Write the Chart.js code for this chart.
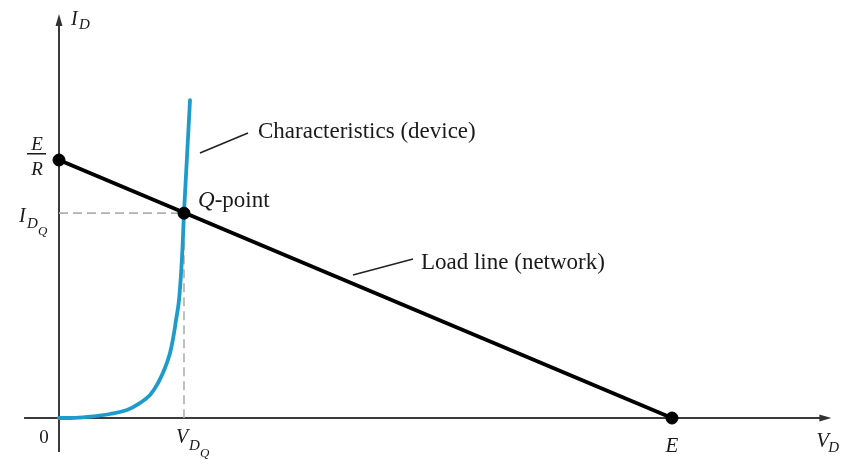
<!DOCTYPE html>
<html>
<head>
<meta charset="utf-8">
<script src="https://cdn.jsdelivr.net/npm/chart.js@4.4.1/dist/chart.umd.min.js"></script>
<style>
  html, body { margin: 0; padding: 0; background: #fff; }
  #wrap { width: 847px; height: 464px; position: relative; }
</style>
</head>
<body>
<div id="wrap"><canvas id="c"></canvas></div>
<script>
// ---- data (V in units of E/10, I in units of (E/R)/5) ----
const diodeV = [0, 0.261, 0.506, 0.832, 1.109, 1.321, 1.485, 1.615, 1.729, 1.811, 1.865, 1.909, 1.958, 2.007, 2.039, 2.088, 2.137];
const diodeI = [0, 0.004, 0.025, 0.078, 0.155, 0.291, 0.446, 0.678, 0.969, 1.260, 1.570, 1.899, 2.287, 3.120, 3.97, 5.06, 6.16];
const loadV = [0, 10];
const loadI = [5, 0];
const qV = 2.039;
const qI = 3.97;
const pointV = [0, qV, 10];
const pointI = [5, qI, 0];
const xAxisRange = [-0.57, 12.6];
const yAxisRange = [-0.66, 7.83];
const xView = [-0.9625, 12.855];
const yView = [-0.891, 8.101];

const toXY = (xs, ys) => xs.map((x, i) => ({ x, y: ys[i] }));

const SERIF = '"Liberation Serif", "DejaVu Serif", serif';

const drawPlugin = {
  id: 'decor',
  afterDatasetsDraw(chart) {
    const ctx = chart.ctx;
    const xs = chart.scales.x, ys = chart.scales.y;
    const px = v => xs.getPixelForValue(v);
    const py = v => ys.getPixelForValue(v);
    ctx.save();
    // arrowheads
    ctx.fillStyle = '#333';
    const xt = px(xAxisRange[1]), y0 = py(0);
    ctx.beginPath();
    ctx.moveTo(xt, y0); ctx.lineTo(xt - 12, y0 - 3.5); ctx.lineTo(xt - 12, y0 + 3.5); ctx.closePath(); ctx.fill();
    const yt = py(yAxisRange[1]), x0 = px(0);
    ctx.beginPath();
    ctx.moveTo(x0, yt); ctx.lineTo(x0 - 3.5, yt + 12); ctx.lineTo(x0 + 3.5, yt + 12); ctx.closePath(); ctx.fill();

    // leader lines
    ctx.strokeStyle = '#222';
    ctx.lineWidth = 1.6;
    ctx.beginPath();
    ctx.moveTo(px(2.30), py(5.136));
    ctx.lineTo(px(3.083), py(5.523));
    ctx.stroke();
    ctx.beginPath();
    ctx.moveTo(px(4.796), py(2.771));
    ctx.lineTo(px(5.775), py(3.081));
    ctx.stroke();

    ctx.fillStyle = '#1a1a1a';
    ctx.textBaseline = 'alphabetic';
    // annotation texts
    ctx.font = `23px ${SERIF}`;
    ctx.textAlign = 'left';
    ctx.fillText('Characteristics (device)', px(3.246), py(5.426));
    ctx.fillText('Load line (network)', px(5.905), py(2.888));
    // Q-point
    ctx.font = `italic 23px ${SERIF}`;
    ctx.fillText('Q', px(2.268), py(4.089));
    const qw = ctx.measureText('Q').width;
    ctx.font = `23px ${SERIF}`;
    ctx.fillText('-point', px(2.268) + qw, py(4.089));

    // I_D axis label
    ctx.font = `italic 20px ${SERIF}`;
    ctx.fillText('I', x0 + 12, yt + 11);
    ctx.font = `italic 15px ${SERIF}`;
    ctx.fillText('D', x0 + 20, yt + 15);

    // V_D axis label
    ctx.font = `italic 21px ${SERIF}`;
    ctx.fillText('V', xt - 15, y0 + 29);
    ctx.font = `italic 15px ${SERIF}`;
    ctx.fillText('D', xt - 3, y0 + 34);

    // E label
    ctx.font = `italic 21px ${SERIF}`;
    ctx.textAlign = 'center';
    ctx.fillText('E', px(10), y0 + 34);
    // 0 label
    ctx.font = `19px ${SERIF}`;
    ctx.fillText('0', x0 - 15, y0 + 25);

    // E/R fraction
    const fy = py(5);
    ctx.font = `italic 19px ${SERIF}`;
    ctx.fillText('E', x0 - 22, fy - 10);
    ctx.fillText('R', x0 - 22, fy + 15);
    ctx.fillRect(x0 - 32, fy - 7, 19, 1.5);

    // I_DQ label
    ctx.textAlign = 'left';
    const iy = py(qI);
    ctx.font = `italic 20px ${SERIF}`;
    ctx.fillText('I', x0 - 40, iy + 9);
    ctx.font = `italic 15px ${SERIF}`;
    ctx.fillText('D', x0 - 32, iy + 15);
    ctx.font = `italic 13px ${SERIF}`;
    ctx.fillText('Q', x0 - 21, iy + 22);

    // V_DQ label
    const vx = px(qV);
    ctx.font = `italic 20px ${SERIF}`;
    ctx.fillText('V', vx - 8, y0 + 25);
    ctx.font = `italic 15px ${SERIF}`;
    ctx.fillText('D', vx + 5, y0 + 32);
    ctx.font = `italic 13px ${SERIF}`;
    ctx.fillText('Q', vx + 16, y0 + 39);
    ctx.restore();
  }
};

new Chart(document.getElementById('c'), {
  type: 'scatter',
  data: {
    datasets: [
      { data: toXY(pointV, pointI), showLine: false, pointRadius: 6, pointBackgroundColor: '#000', pointBorderColor: '#000', order: 0 },
      { data: toXY(loadV, loadI), showLine: true, borderColor: '#000', borderWidth: 4, pointRadius: 0, order: 1 },
      { data: toXY(diodeV, diodeI), showLine: true, borderColor: '#1f9bcb', borderWidth: 3.8, pointRadius: 0, tension: 0.4, borderCapStyle: 'round', borderJoinStyle: 'round', order: 2 },
      { data: [{ x: 0, y: qI }, { x: qV, y: qI }], showLine: true, borderColor: '#b0b0b0', borderWidth: 1.6, borderDash: [9, 5], pointRadius: 0, order: 3 },
      { data: [{ x: qV, y: qI }, { x: qV, y: 0 }], showLine: true, borderColor: '#b0b0b0', borderWidth: 1.6, borderDash: [9, 5], pointRadius: 0, order: 3 },
      { data: [{ x: xAxisRange[0], y: 0 }, { x: xAxisRange[1] - 0.1, y: 0 }], showLine: true, borderColor: '#3a3a3a', borderWidth: 2, pointRadius: 0, order: 4 },
      { data: [{ x: 0, y: yAxisRange[0] }, { x: 0, y: yAxisRange[1] - 0.1 }], showLine: true, borderColor: '#3a3a3a', borderWidth: 2, pointRadius: 0, order: 4 }
    ]
  },
  options: {
    responsive: true,
    maintainAspectRatio: false,
    animation: false,
    layout: { padding: 0, autoPadding: false },
    plugins: { legend: { display: false }, tooltip: { enabled: false } },
    scales: {
      x: { type: 'linear', min: xView[0], max: xView[1], display: false },
      y: { type: 'linear', min: yView[0], max: yView[1], display: false }
    }
  },
  plugins: [drawPlugin]
});
</script>
</body>
</html>
